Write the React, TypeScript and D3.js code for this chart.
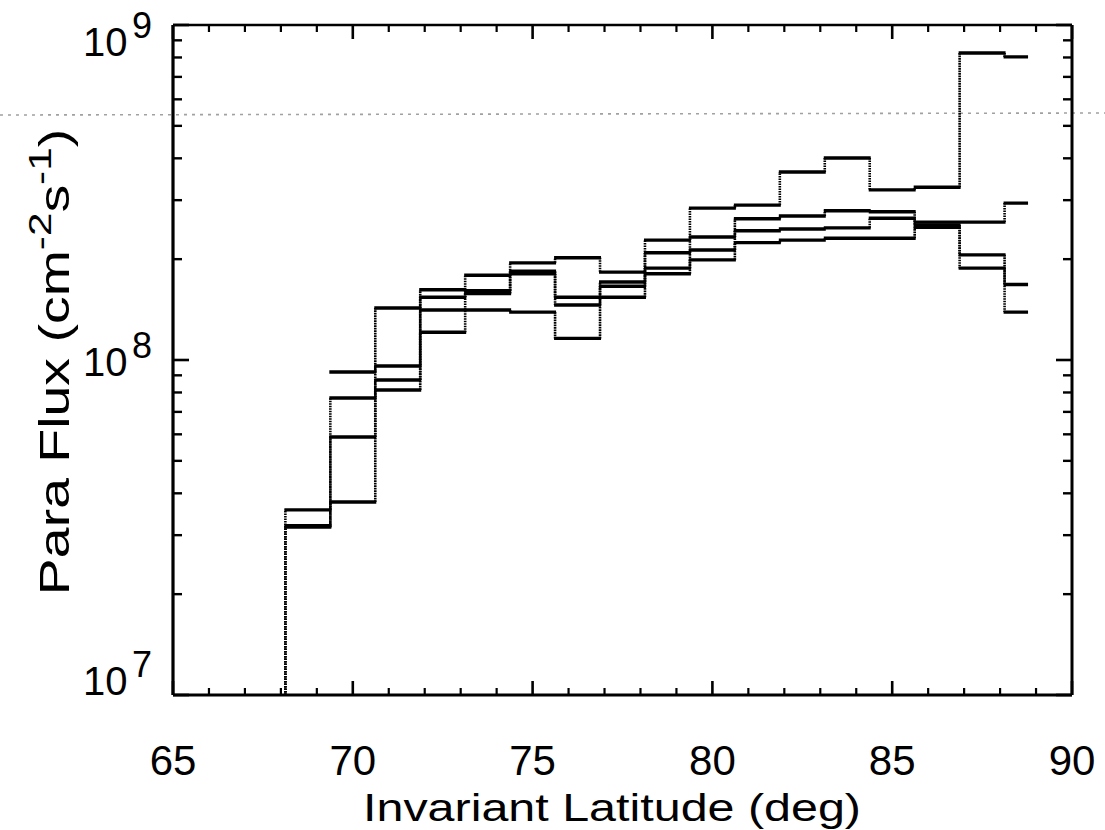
import React from 'react';
import * as d3 from 'd3';

// Invariant latitude bin centres (deg)
const latitudes = [67.5, 68.75, 70, 71.25, 72.5, 73.75, 75, 76.25, 77.5, 78.75, 80, 81.25, 82.5, 83.75, 85, 86.25, 87.5, 88.75];

// Parallel flux (cm^-2 s^-1), four passes; null = no data, 1e6 = below plot range
const series1 = [null, null, 9.21e7, 1.43e8, 1.62e8, 1.79e8, 1.95e8, 2.02e8, 1.83e8, 2.28e8, 2.84e8, 2.90e8, 3.64e8, 4.01e8, 3.22e8, 3.28e8, 8.25e8, 8.03e8];
const series2 = [1e6, 3.57e7, 7.70e7, 9.60e7, 1.54e8, 1.61e8, 1.84e8, 1.54e8, 1.71e8, 2.09e8, 2.33e8, 2.64e8, 2.69e8, 2.79e8, 2.77e8, 2.58e8, 2.58e8, 2.94e8];
const series3 = [1e6, 3.20e7, 5.89e7, 8.72e7, 1.41e8, 1.58e8, 1.81e8, 1.46e8, 1.66e8, 1.88e8, 2.13e8, 2.43e8, 2.46e8, 2.48e8, 2.65e8, 2.53e8, 2.06e8, 1.68e8];
const series4 = [1e6, 3.17e7, 3.77e7, 8.14e7, 1.21e8, 1.41e8, 1.39e8, 1.16e8, 1.54e8, 1.81e8, 1.99e8, 2.24e8, 2.28e8, 2.31e8, 2.31e8, 2.49e8, 1.88e8, 1.39e8];
const seriesList = [series1, series2, series3, series4];

const xTickLabels = [65, 70, 75, 80, 85, 90];
const yTickExponents = [7, 8, 9];

const FONT = "'Liberation Sans', Arial, sans-serif";

export default function App() {
  const x = d3.scaleLinear().domain([65, 90]).range([173, 1072]);
  const y = d3.scaleLog().domain([1e7, 1e9]).range([695, 25]);
  const [x0, x1] = x.range();
  const [yb, yt] = y.range();

  const minorX = d3.range(65, 91, 1).filter((v) => v % 5 !== 0);
  const minorY: number[] = [];
  [1e7, 1e8].forEach((d) => {
    for (let k = 2; k <= 9; k++) minorY.push(k * d);
  });

  const n = latitudes.length;
  const stepPaths = (vals: (number | null)[]) => {
    const h: string[] = [];
    const v: string[] = [];
    for (let i = 0; i < n; i++) {
      const val = vals[i];
      if (val == null) continue;
      const left = i === 0 ? x(latitudes[0]) : x((latitudes[i - 1] + latitudes[i]) / 2);
      const right = i === n - 1 ? x(latitudes[n - 1]) : x((latitudes[i] + latitudes[i + 1]) / 2);
      h.push(`M${left - 1},${y(val)}H${right + 1}`);
      const next = vals[i + 1];
      if (i < n - 1 && next != null) v.push(`M${right},${y(val)}V${y(next)}`);
    }
    return { h: h.join(''), v: v.join('') };
  };

  return (
    <svg
      width={1105}
      height={830}
      style={{ position: 'absolute', left: 0, top: 0, background: '#fff' }}
      fontFamily={FONT}
    >
      <defs>
        <clipPath id="plotClip">
          <rect x={x0} y={yt} width={x1 - x0} height={yb - yt} />
        </clipPath>
      </defs>
      <rect x={0} y={0} width={1105} height={830} fill="#fff" />

      {/* scan artefact: faint dotted line */}
      <line x1={0} x2={1105} y1={115} y2={113} stroke="#7a7a7a" strokeWidth={1.6} strokeDasharray="3 5" opacity={0.7} />

      {/* data */}
      <g clipPath="url(#plotClip)">
        {seriesList.map((s, i) => {
          const p = stepPaths(s);
          return (
            <g key={i}>
              <path d={p.v} fill="none" stroke="#000" strokeWidth={2.6} strokeDasharray="1.6 0.9" />
              <path d={p.h} fill="none" stroke="#000" strokeWidth={3.4} />
            </g>
          );
        })}
      </g>

      {/* frame */}
      <line x1={x0} x2={x1} y1={yb} y2={yb} stroke="#000" strokeWidth={3.2} />
      <line x1={x0} x2={x0} y1={yt} y2={yb} stroke="#000" strokeWidth={3.2} />
      <line x1={x0} x2={x1} y1={yt} y2={yt} stroke="#000" strokeWidth={2.6} />
      <line x1={x1} x2={x1} y1={yt} y2={yb} stroke="#000" strokeWidth={3} />

      {/* x ticks */}
      {xTickLabels.map((t) => (
        <g key={'xm' + t}>
          <line x1={x(t)} x2={x(t)} y1={yb} y2={yb - 14} stroke="#000" strokeWidth={2.6} />
          <line x1={x(t)} x2={x(t)} y1={yt} y2={yt + 14} stroke="#000" strokeWidth={2.6} />
        </g>
      ))}
      {minorX.map((t) => (
        <g key={'xn' + t}>
          <line x1={x(t)} x2={x(t)} y1={yb} y2={yb - 7} stroke="#000" strokeWidth={2.2} />
          <line x1={x(t)} x2={x(t)} y1={yt} y2={yt + 7} stroke="#000" strokeWidth={2.2} />
        </g>
      ))}

      {/* y ticks */}
      {yTickExponents.map((e) => (
        <g key={'ym' + e}>
          <line x1={x0} x2={x0 + 16} y1={y(10 ** e)} y2={y(10 ** e)} stroke="#000" strokeWidth={2.6} />
          <line x1={x1} x2={x1 - 16} y1={y(10 ** e)} y2={y(10 ** e)} stroke="#000" strokeWidth={2.6} />
        </g>
      ))}
      {minorY.map((t) => (
        <g key={'yn' + t}>
          <line x1={x0} x2={x0 + 9} y1={y(t)} y2={y(t)} stroke="#000" strokeWidth={2.4} />
          <line x1={x1} x2={x1 - 9} y1={y(t)} y2={y(t)} stroke="#000" strokeWidth={2.4} />
        </g>
      ))}

      {/* x tick labels */}
      {xTickLabels.map((t) => (
        <text key={'xl' + t} x={x(t)} y={775} textAnchor="middle" fontSize={42} fill="#000">
          {t}
        </text>
      ))}

      {/* y tick labels */}
      {yTickExponents.map((e) => (
        <text key={'yl' + e} x={83} y={y(10 ** e) + 15.5 * (e - 7)} fontSize={40} fill="#000">
          10
          <tspan x={132} dy={-18} fontSize={36}>{e}</tspan>
        </text>
      ))}

      {/* axis titles */}
      <text x={612} y={821} textAnchor="middle" fontSize={38} fill="#000" textLength={498} lengthAdjust="spacingAndGlyphs">
        Invariant Latitude (deg)
      </text>
      <g transform="translate(69,362) rotate(-90)">
        <text x={0} y={0} textAnchor="middle" fontSize={42} fill="#000" transform="scale(1.32,1)">
          Para Flux (cm<tspan dy={-18} fontSize={32}>-2</tspan>
          <tspan dy={18}>s</tspan>
          <tspan dy={-18} fontSize={32}>-1</tspan>
          <tspan dy={18}>)</tspan>
        </text>
      </g>
    </svg>
  );
}
